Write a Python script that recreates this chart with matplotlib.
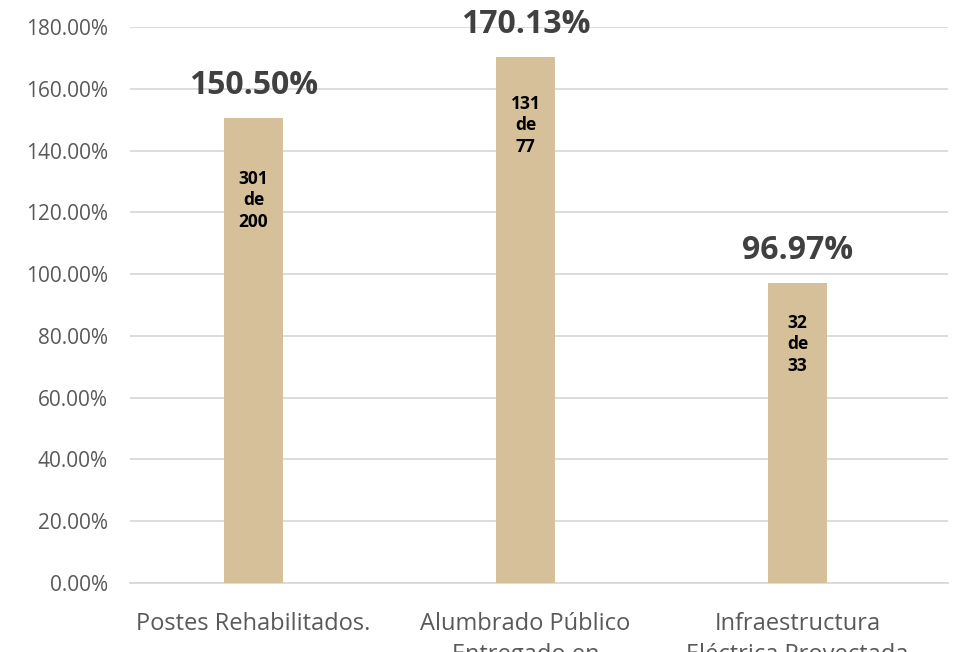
import numpy as np
import matplotlib
matplotlib.use('Agg')
import matplotlib.pyplot as plt
from matplotlib.ticker import FuncFormatter

categories = ["Postes Rehabilitados.",
              "Alumbrado Público\nEntregado en",
              "Infraestructura\nEléctrica Proyectada"]
percent = [150.50, 170.13, 96.97]
done = [301, 131, 32]
goal = [200, 77, 33]

# how far below the bar top the "x de y" box sits (px)
inner_drop = [82, 68, 61]

plt.rcParams['font.family'] = ['Open Sans', 'DejaVu Sans']

fig = plt.figure(figsize=(9.54, 6.52), dpi=100)
ax = fig.add_axes([130 / 954, 1 - 583 / 652, 818 / 954, 556 / 652])

x = np.arange(len(categories))
ax.bar(x, percent, width=0.22, color='#D5C09A', zorder=3)

ax.set_xlim(-0.454, 2.553)
ax.set_ylim(0, 180)
ax.set_yticks(np.arange(0, 181, 20))
ax.yaxis.set_major_formatter(FuncFormatter(lambda v, p: "%.2f%%" % v))
ax.grid(axis='y', color='#d9d9d9', linewidth=1.3, zorder=0)
for s in ['top', 'right', 'left']:
    ax.spines[s].set_visible(False)
ax.spines['bottom'].set_color('#d9d9d9')
ax.spines['bottom'].set_linewidth(1.3)

ax.set_xticks(x)
ax.set_xticklabels(categories, fontsize=17, color='#595959', linespacing=1.4)
ax.tick_params(axis='x', length=0, pad=21)
ax.tick_params(axis='y', length=0, pad=16, labelsize=15, labelcolor='#595959')

for i in range(len(categories)):
    ax.annotate("%.2f%%" % percent[i], (x[i], percent[i]),
                xytext=(0, 33 * 0.72), textcoords='offset points',
                ha='center', va='center', fontsize=23, fontweight='bold',
                color='#404040')
    ax.annotate("%d\nde\n%d" % (done[i], goal[i]), (x[i], percent[i]),
                xytext=(0, -inner_drop[i] * 0.72), textcoords='offset points',
                ha='center', va='center', fontsize=12.5, fontweight='bold',
                color='black', linespacing=1.25)

fig.savefig('out.png', dpi=100)
plt.close()
